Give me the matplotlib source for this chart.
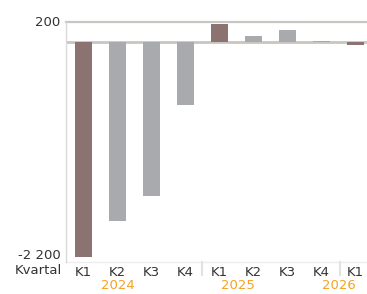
import matplotlib
matplotlib.use("Agg")
import matplotlib.pyplot as plt
from matplotlib.transforms import blended_transform_factory

quarters = ["K1", "K2", "K3", "K4", "K1", "K2", "K3", "K4", "K1"]
values = [-2145, -1795, -1545, -635, 183, 56, 123, 13, -26]
highlight = [True, False, False, False, True, False, False, False, True]
years = ["2024", "2025", "2026"]
year_pos = [1.0, 4.53, 7.51]
separators = [3.5, 7.56]
yticks = [200, -2200]
ytick_labels = ["200", "-2 200"]

brown = "#8a7370"
gray = "#a9aaae"
grid_c = "#c9c6c2"
orange = "#f5a225"
text_c = "#333333"

fig = plt.figure(figsize=(3.67, 2.94), dpi=100)
ax = fig.add_axes([66/367, 1-262/294, 1-66/367, (262-22)/294])

x = list(range(len(values)))
colors = [brown if h else gray for h in highlight]
ax.bar(x, values, width=0.5, color=colors, zorder=3)

ax.set_xlim(-0.515, 8.34)
ax.set_ylim(-2200, 200)

for s in ["top", "right", "bottom"]:
    ax.spines[s].set_visible(False)
ax.spines["left"].set_color("#d9d9d9")
ax.spines["left"].set_linewidth(1.0)

ax.axhline(200, color=grid_c, lw=1.6, zorder=1, clip_on=False)
ax.axhline(0, color=grid_c, lw=2.0, zorder=2)
ax.axhline(-2200, color="#eeeeee", lw=1.0, zorder=1, clip_on=False)

ax.set_yticks(yticks)
ax.set_yticklabels(ytick_labels)
ax.tick_params(axis="y", length=0, pad=4, labelsize=9.5, labelcolor=text_c)
labs = ax.get_yticklabels()
labs[0].set_va("center")
labs[1].set_va("bottom")

ax.set_xticks(x)
ax.set_xticklabels(quarters)
ax.tick_params(axis="x", length=0, pad=3, labelsize=9.5, labelcolor=text_c)

trans = blended_transform_factory(ax.transData, ax.transAxes)
for s in separators:
    ax.plot([s, s], [0, -0.055], transform=trans, color="#e3e3e3", lw=1.5, clip_on=False)

fig.text(62/367, 1-271/294, "Kvartal", ha="right", va="center", fontsize=9.5, color=text_c)
for yr, p in zip(years, year_pos):
    ax.text(p, -0.098, yr, transform=trans, ha="center", va="center", fontsize=9.5, color=orange)

fig.savefig("out.png", dpi=100)
